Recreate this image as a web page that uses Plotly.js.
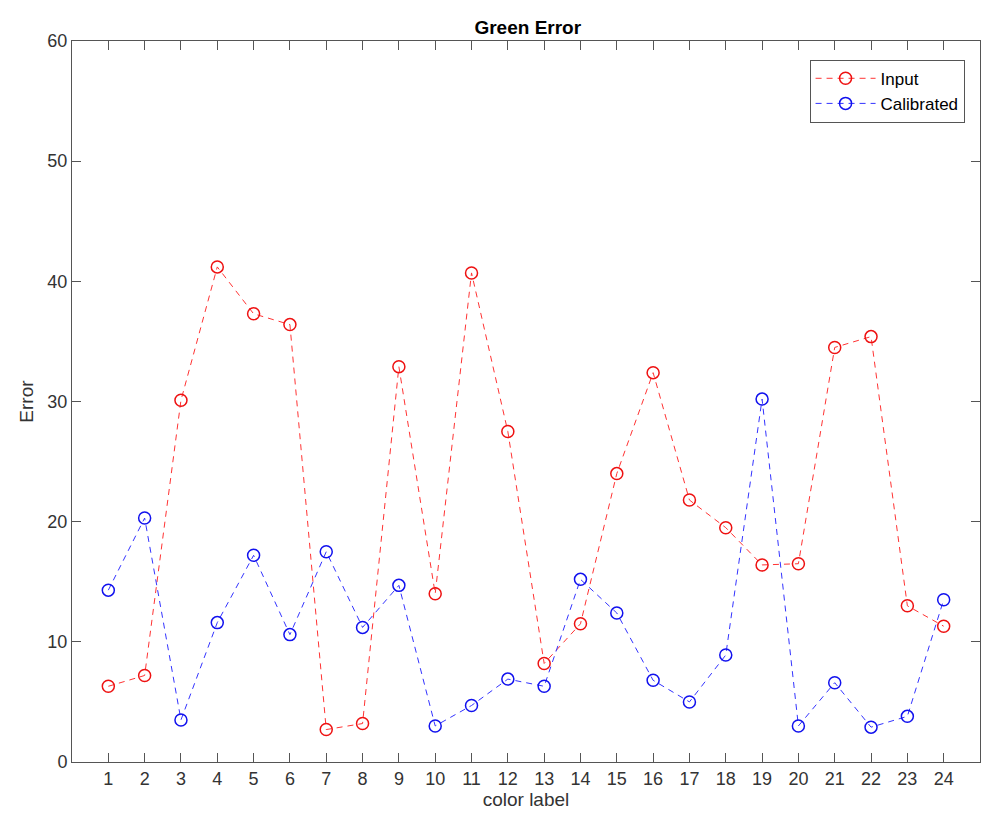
<!DOCTYPE html>
<html>
<head>
<meta charset="utf-8">
<script src="https://cdn.plot.ly/plotly-3.0.1.min.js"></script>
<style>html,body{margin:0;padding:0;background:#fff;}#chart{width:981px;height:824px;}</style>
</head>
<body>
<div id="chart"></div>
<script>
const colorLabels = [1,2,3,4,5,6,7,8,9,10,11,12,13,14,15,16,17,18,19,20,21,22,23,24];
const inputError = [6.3,7.2,30.1,41.2,37.3,36.4,2.7,3.2,32.9,14.0,40.7,27.5,8.2,11.5,24.0,32.4,21.8,19.5,16.4,16.5,34.5,35.4,13.0,11.3];
const calibratedError = [14.3,20.3,3.5,11.6,17.2,10.6,17.5,11.2,14.7,3.0,4.7,6.9,6.3,15.2,12.4,6.8,5.0,8.9,30.2,3.0,6.6,2.9,3.8,13.5];
const seriesNames = ['Input','Calibrated'];
const tickLabels = colorLabels.map(String);

const font = 'Liberation Sans, Arial, Helvetica, sans-serif';
const axisColor = '#555555';
const textColor = '#333333';

const traces = [
  {x: colorLabels, y: inputError, name: seriesNames[0], type: 'scatter', mode: 'lines+markers',
   line: {color: '#ff3333', dash: '6px,5px', width: 1},
   marker: {symbol: 'circle-open', size: 12, color: '#ee1111', line: {width: 1.5, color: '#ee1111'}}},
  {x: colorLabels, y: calibratedError, name: seriesNames[1], type: 'scatter', mode: 'lines+markers',
   line: {color: '#3333ff', dash: '6px,5px', width: 1},
   marker: {symbol: 'circle-open', size: 12, color: '#1111ee', line: {width: 1.5, color: '#1111ee'}}}
];

const layout = {
  width: 981, height: 824,
  margin: {l: 72, r: 1, t: 41, b: 62},
  paper_bgcolor: '#ffffff', plot_bgcolor: '#ffffff',
  font: {family: font, size: 18, color: textColor},
  title: {text: '<b>Green Error</b>', x: 0.538, xanchor: 'center', y: 0.967, yanchor: 'middle',
          font: {family: font, size: 19, color: '#000000'}},
  xaxis: {
    range: [0, 25], tickmode: 'array', tickvals: colorLabels, ticktext: tickLabels,
    ticks: 'inside', ticklen: 9, tickcolor: axisColor, tickwidth: 1,
    showline: true, linecolor: axisColor, linewidth: 1, mirror: 'ticks',
    showgrid: false, zeroline: false,
    tickfont: {family: font, size: 18, color: textColor},
    title: {text: 'color label', font: {family: font, size: 19, color: textColor}, standoff: 4}
  },
  yaxis: {
    range: [0, 60], dtick: 10, tick0: 0,
    ticks: 'inside', ticklen: 9, tickcolor: axisColor, tickwidth: 1,
    showline: true, linecolor: axisColor, linewidth: 1, mirror: 'ticks',
    showgrid: false, zeroline: false,
    tickfont: {family: font, size: 18, color: textColor},
    title: {text: 'Error', font: {family: font, size: 19, color: textColor}, standoff: 8}
  },
  showlegend: true,
  legend: {x: 0.983, xanchor: 'right', y: 0.974, yanchor: 'top',
           bgcolor: '#ffffff', bordercolor: '#555555', borderwidth: 1, itemwidth: 60,
           font: {family: font, size: 17, color: '#000000'}, tracegroupgap: 0}
};

Plotly.newPlot('chart', traces, layout, {displayModeBar: false, staticPlot: true});
</script>
</body>
</html>
